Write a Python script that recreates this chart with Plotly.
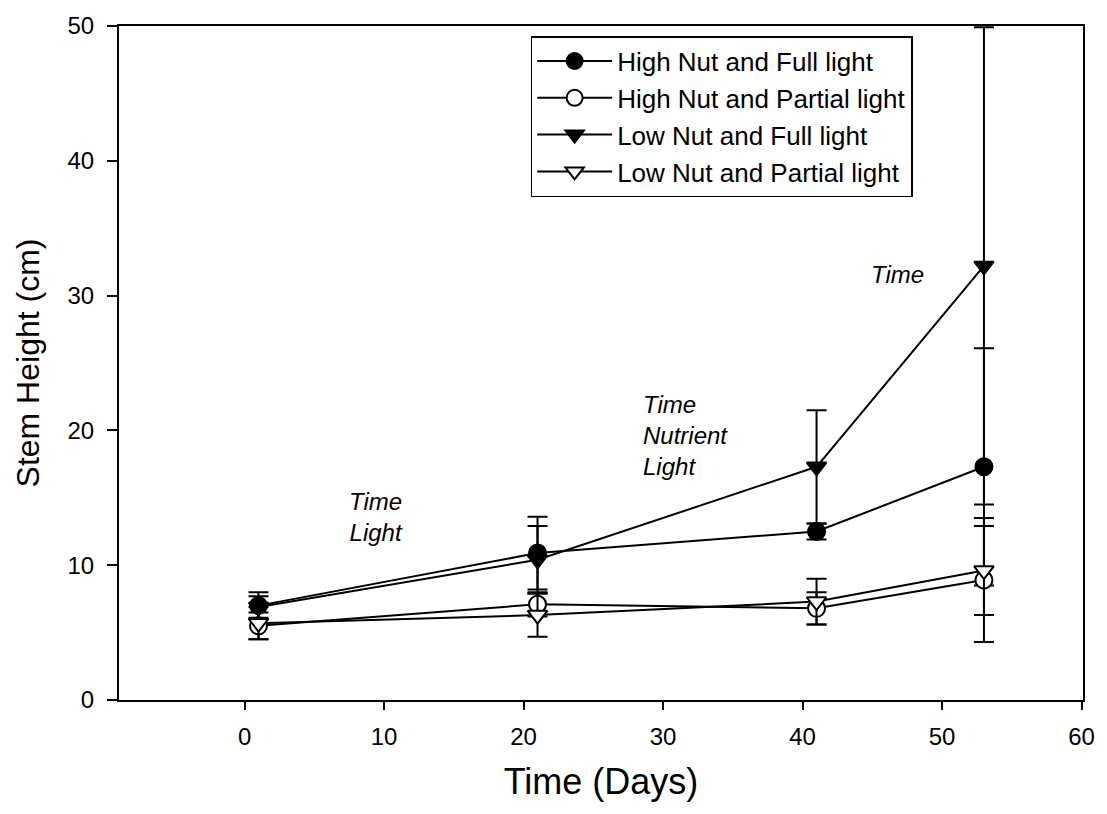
import plotly.graph_objects as go

days = [1, 21, 41, 53]

hnf = [7.0, 10.9, 12.5, 17.3]
hnf_err = [1.0, 2.7, 0.6, 8.8]

hnp = [5.5, 7.1, 6.8, 8.9]
hnp_err = [1.0, 0.9, 1.2, 4.6]

lnf = [6.9, 10.4, 17.3, 32.2]
lnf_err = [0.8, 2.5, 4.2, 17.7]

lnp = [5.7, 6.3, 7.3, 9.6]
lnp_err = [1.2, 1.6, 1.7, 3.3]

names = ["High Nut and Full light", "High Nut and Partial light",
         "Low Nut and Full light", "Low Nut and Partial light"]

FONT = "Arial, 'Liberation Sans', sans-serif"

fig = go.Figure()
series = [
    (hnf, hnf_err, "circle", "black"),
    (hnp, hnp_err, "circle", "white"),
    (lnf, lnf_err, "triangle-down", "black"),
    (lnp, lnp_err, "triangle-down", "white"),
]
for (vals, errs, sym, fill), name in zip(series, names):
    fig.add_trace(go.Scatter(
        x=days, y=vals, name=name, mode="lines+markers",
        line=dict(color="black", width=2),
        marker=dict(symbol=sym, size=17, color=fill,
                    line=dict(color="black", width=2)),
        error_y=dict(type="data", array=errs, symmetric=True,
                     color="black", thickness=2, width=10),
    ))

annots = [
    (9.4, 13.6, "<i>Time<br>Light</i>", "center", "center"),
    (28.4, 19.6, "<i>Time<br>Nutrient<br>Light</i>", "left", "left"),
    (46.8, 31.6, "<i>Time</i>", "center", "center"),
]
for x, y, t, xa, al in annots:
    fig.add_annotation(x=x, y=y, text=t, showarrow=False, xanchor=xa,
                       yanchor="middle", align=al,
                       font=dict(family=FONT, size=24, color="black"))

fig.update_layout(
    width=1107, height=814,
    margin=dict(l=119, r=21, t=23, b=114),
    paper_bgcolor="white", plot_bgcolor="white",
    font=dict(family=FONT, color="black"),
    showlegend=True,
    legend=dict(x=0.427, y=0.985, xanchor="left", yanchor="top",
                bordercolor="black", borderwidth=1.5, bgcolor="white",
                font=dict(family=FONT, size=26, color="black"),
                itemwidth=75, tracegroupgap=0,
                entrywidth=395, entrywidthmode="pixels"),
    xaxis=dict(range=[-9, 60.1], tickvals=[0, 10, 20, 30, 40, 50, 60],
               ticks="outside", ticklen=8, tickwidth=2, tickcolor="black",
               showline=True, linecolor="black", linewidth=2, mirror=True,
               showgrid=False, zeroline=False, ticklabelstandoff=6,
               tickfont=dict(family=FONT, size=24),
               title=dict(text="Time (Days)", font=dict(family=FONT, size=36),
                          standoff=20)),
    yaxis=dict(range=[0, 50], tickvals=[0, 10, 20, 30, 40, 50],
               ticks="outside", ticklen=10, tickwidth=2, tickcolor="black",
               showline=True, linecolor="black", linewidth=2, mirror=True,
               showgrid=False, zeroline=False, ticklabelstandoff=8,
               tickfont=dict(family=FONT, size=24),
               title=dict(text="Stem Height (cm)", font=dict(family=FONT, size=32),
                          standoff=18)),
)

fig.write_html("out.html")
